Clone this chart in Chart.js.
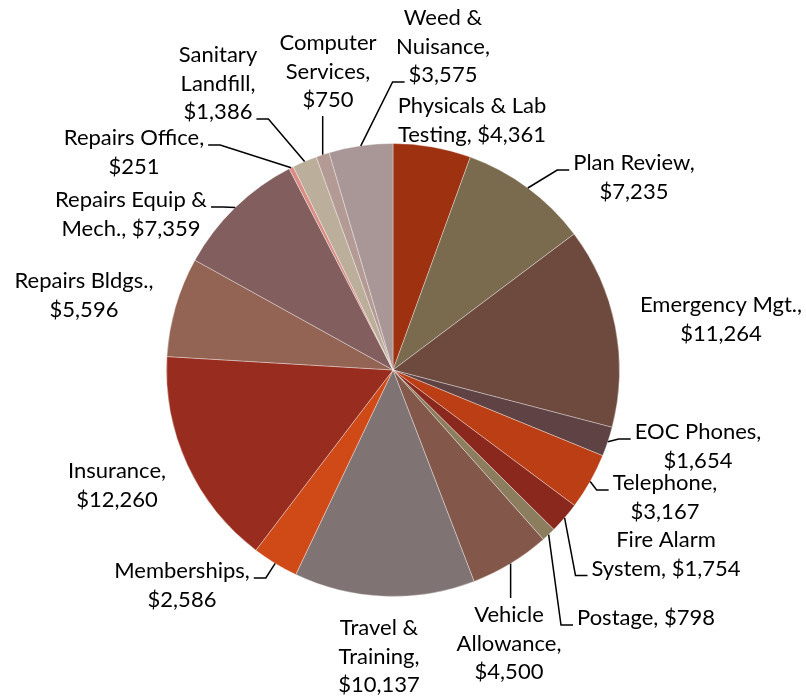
<!DOCTYPE html>
<html>
<head>
<meta charset="utf-8">
<title>Expenses</title>
<script src="https://cdn.jsdelivr.net/npm/chart.js@4.4.1/dist/chart.umd.min.js"></script>
<style>
    html, body { margin: 0; padding: 0; background: #ffffff; }
    #pieChart { display: block; }
</style>
</head>
<body>
<canvas id="pieChart" width="806" height="698"></canvas>
<script>
// Expense categories, clockwise from 12 o'clock
const categories = [
    'Physicals & Lab Testing', 'Plan Review', 'Emergency Mgt.', 'EOC Phones',
    'Telephone', 'Fire Alarm System', 'Postage', 'Vehicle Allowance',
    'Travel & Training', 'Memberships', 'Insurance', 'Repairs Bldgs.',
    'Repairs Equip & Mech.', 'Repairs Office', 'Sanitary Landfill',
    'Computer Services', 'Weed & Nuisance'
];
const amounts = [4361, 7235, 11264, 1654, 3167, 1754, 798, 4500, 10137, 2586, 12260, 5596, 7359, 251, 1386, 750, 3575];
const sliceColors = [
    '#9e3210', '#7a6a4e', '#6e4a3e', '#5e4244', '#bc3e14', '#8b281d',
    '#8c7d5e', '#83574a', '#807373', '#d04a18', '#982c1f', '#936453',
    '#825e5e', '#db8c84', '#bbaf9c', '#b49a94', '#a99696'
];
// how many words of "Name, $value" go on each line of a label
const labelWordsPerLine = [
    [3, 2], [2, 1], [2, 1], [2, 1], [1, 1], [2, 2], [2], [1, 1, 1], [2, 1, 1],
    [1, 1], [1, 1], [2, 1], [3, 2], [2, 1], [1, 1, 1], [1, 1, 1], [2, 1, 1]
];

// label placement: offset of text centre / first baseline from the pie centre,
// which side the leader line attaches to, and on which line
const labelLayout = [
    [79, -257, null, 0], [241, -200, 'left', 0], [328, -58, null, 0], [305, 69, 'left', 0],
    [272, 120, 'left', 0], [273, 177, 'left', 1], [253, 255, 'left', 0], [116, 252, 'top', 0],
    [-14, 265, null, 0], [-211, 208, 'right', 0], [-276, 108, null, 0], [-309, -82, null, 0],
    [-262, -163, 'right', 0], [-259, -225, 'right', 0], [-175, -308, 'right', 2],
    [-65, -320, 'bottom', 0], [50, -345, 'left', 2]
];

const LABEL_FONT = '22px Lato';
const LINE_HEIGHT = 28.5;

function labelText(i) {
    const words = (categories[i] + ', $' + amounts[i].toLocaleString('en-US')).split(' ');
    const lines = [];
    let n = 0;
    labelWordsPerLine[i].forEach(function (count) {
        lines.push(words.slice(n, n + count).join(' '));
        n += count;
    });
    return lines;
}

// Draws the data labels and their leader lines
const pieLabels = {
    id: 'pieLabels',
    afterDatasetsDraw(chart) {
        const ctx = chart.ctx;
        const arcs = chart.getDatasetMeta(0).data;
        ctx.save();
        ctx.font = LABEL_FONT;
        ctx.fillStyle = '#000000';
        ctx.strokeStyle = '#000000';
        ctx.lineWidth = 1.5;
        ctx.textAlign = 'center';
        ctx.textBaseline = 'alphabetic';

        arcs.forEach(function (arc, i) {
            const p = arc.getProps(['x', 'y', 'startAngle', 'endAngle', 'outerRadius'], true);
            const mid = (p.startAngle + p.endAngle) / 2;
            const ax = p.x + Math.cos(mid) * p.outerRadius;
            const ay = p.y + Math.sin(mid) * p.outerRadius;

            const lines = labelText(i);
            const [dx, dy, anchor, k] = labelLayout[i];
            const cx = p.x + dx;
            const by = p.y + dy;
            lines.forEach(function (t, j) {
                ctx.fillText(t, cx, by + j * LINE_HEIGHT);
            });

            if (!anchor) return;
            ctx.beginPath();
            if (anchor === 'left' || anchor === 'right') {
                const w = ctx.measureText(lines[k]).width;
                const ly = by + k * LINE_HEIGHT;
                const ex = anchor === 'left' ? cx - w / 2 - 4 : cx + w / 2 + 4;
                const bx = anchor === 'left' ? ex - 12 : ex + 12;
                ctx.moveTo(ax, ay);
                ctx.lineTo(bx, ly);
                ctx.lineTo(ex, ly);
            } else if (anchor === 'top') {
                ctx.moveTo(ax, ay);
                ctx.lineTo(ax, by - 24);
            } else {
                ctx.moveTo(ax, ay);
                ctx.lineTo(ax, by + (lines.length - 1) * LINE_HEIGHT + 9);
            }
            ctx.stroke();
        });
        ctx.restore();
    }
};

document.addEventListener('DOMContentLoaded', function () {
    const pieCtx = document.getElementById('pieChart').getContext('2d');
    new Chart(pieCtx, {
        type: 'pie',
        data: {
            labels: categories,
            datasets: [{
                data: amounts,
                backgroundColor: sliceColors,
                borderColor: 'rgba(255, 255, 255, 0.35)',
                borderWidth: 1
            }]
        },
        options: {
            responsive: false,
            animation: false,
            layout: {
                padding: { left: 166, right: 186, top: 143, bottom: 101 }
            },
            plugins: {
                legend: { display: false },
                tooltip: { enabled: false }
            }
        },
        plugins: [pieLabels]
    });
});
</script>
</body>
</html>
